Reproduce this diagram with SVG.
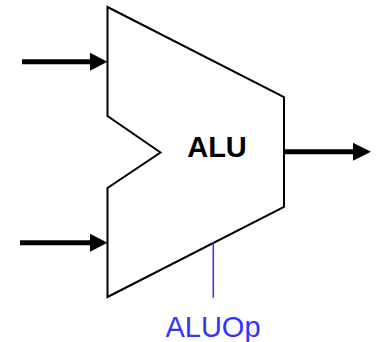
<svg xmlns="http://www.w3.org/2000/svg" width="378" height="342" viewBox="0 0 378 342">
<style>
.shape{fill:#fff;stroke:#000;stroke-width:2;stroke-linejoin:miter}
.bus{stroke:#000;stroke-width:5;fill:none}
.head{fill:#000}
.ctl{stroke:#3333ff;stroke-width:1.5;fill:none}
.lbl{font-family:"Liberation Sans",Arial,sans-serif;font-size:29px}
</style>
<rect width="378" height="342" fill="#fff"/>
<g id="alu">
<polygon class="shape" points="107.5,7 284,97 284,207 107.5,297 107.5,188 160.5,152.5 107.5,116"/>
<text class="lbl" x="217" y="157" text-anchor="middle" font-weight="bold">ALU</text>
</g>
<g id="connectors">
<line class="bus" x1="22" y1="61.7" x2="92" y2="61.7"/>
<polygon class="head" points="90,52.7 107.5,61.7 90,70.7"/>
<line class="bus" x1="20" y1="242.7" x2="92" y2="242.7"/>
<polygon class="head" points="90,233.7 107.5,242.7 90,251.7"/>
<line class="bus" x1="285" y1="151.7" x2="355" y2="151.7"/>
<polygon class="head" points="353,142.7 371,151.7 353,160.7"/>
<line class="ctl" x1="213.3" y1="242.5" x2="213.3" y2="297.7"/>
</g>
<g id="aluop">
<text class="lbl" x="213" y="337.3" text-anchor="middle" fill="#3333ff">ALUOp</text>
</g>
</svg>
